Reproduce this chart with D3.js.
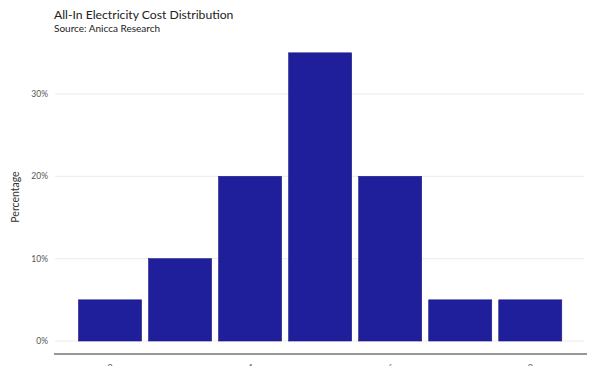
<!DOCTYPE html>
<html><head><meta charset="utf-8">
<script src="https://cdn.jsdelivr.net/npm/d3@7"></script>
<style>body{margin:0;background:#fff;}svg{display:block;font-family:Lato,sans-serif;}</style>
</head><body><svg id="c" width="600" height="366"></svg>
<script>
const bins = [2, 3, 4, 5, 6, 7, 8];
const percents = [5, 10, 20, 35, 20, 5, 5];
const yTicks = [0, 10, 20, 30];
const xTicks = [2, 4, 6, 8];
const title = "All-In Electricity Cost Distribution";
const subtitle = "Source: Anicca Research";

const svg = d3.select("#c");
const x = d3.scaleLinear().domain([1.2, 8.81]).range([54, 587]);
const y = d3.scaleLinear().domain([0, 30]).range([341, 94]);

svg.append("text").attr("x", 54).attr("y", 19).attr("font-size", 12.2).attr("fill", "#222").text(title);
svg.append("text").attr("x", 54).attr("y", 32).attr("font-size", 10).attr("fill", "#222").text(subtitle);

// gridlines
svg.append("g").selectAll("line").data(yTicks).join("line")
  .attr("x1", 55).attr("x2", 584).attr("y1", d => y(d)).attr("y2", d => y(d))
  .attr("stroke", "#ebebeb").attr("stroke-width", 1);

svg.append("g").selectAll("text").data(yTicks).join("text")
  .attr("x", 48).attr("y", d => y(d) + 3).attr("text-anchor", "end")
  .attr("font-size", 8.5).attr("fill", "#555").text(d => d + "%");

svg.append("text").attr("transform", "translate(19,197) rotate(-90)")
  .attr("text-anchor", "middle").attr("font-size", 10.5).attr("fill", "#333").text("Percentage");

// bars
const bw = x(1.9) - x(1);
svg.append("g").selectAll("rect").data(bins).join("rect")
  .attr("x", (d) => x(d) - bw / 2).attr("width", bw)
  .attr("y", (d, i) => y(percents[i])).attr("height", (d, i) => y(0) - y(percents[i]))
  .attr("fill", "#1f1f9c").attr("stroke", "#1a1a80").attr("stroke-width", 0.6);

// x axis
svg.append("line").attr("x1", 54).attr("x2", 587).attr("y1", 354).attr("y2", 354)
  .attr("stroke", "#333").attr("stroke-width", 1.2);
svg.append("g").selectAll("text").data(xTicks).join("text")
  .attr("x", d => x(d)).attr("y", 371).attr("text-anchor", "middle")
  .attr("font-size", 9).attr("fill", "#555").text(d => d);
</script></body></html>
